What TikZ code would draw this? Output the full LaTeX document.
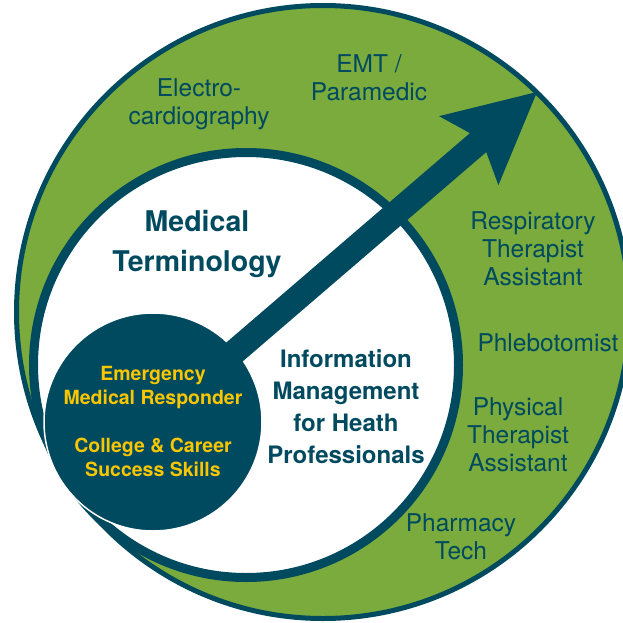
\documentclass[tikz,border=0pt]{standalone}
\usepackage{fontspec}
\setmainfont{TeX Gyre Heros}
\usetikzlibrary{arrows.meta}
\definecolor{pathteal}{RGB}{0,74,96}
\definecolor{pathgreen}{RGB}{122,171,60}
\definecolor{pathgold}{RGB}{250,198,0}
\tikzstyle{career}=[text=pathteal,align=center,font=\fontsize{24.5}{28}\selectfont]
\tikzstyle{course}=[text=pathteal,align=center,font=\bfseries\fontsize{24}{32}\selectfont]
\tikzstyle{ring}=[circle,draw=pathteal,inner sep=0pt]
\newcommand{\careernode}[3]{ % name, position in px, text
	\node[career] (#1) at (#2) {#3};
}

\begin{document}
\begin{tikzpicture}[x=1pt,y=-1pt] % one unit = one pixel of the picture
\useasboundingbox (0,0) rectangle (623,623);
% the rings
\node[ring,fill=pathgreen,line width=5pt,minimum size=613pt] (outer) at (323,312) {};
\node[ring,fill=white,line width=9pt,minimum size=425pt] (inner) at (246,365) {};
\node[circle,fill=pathteal,draw=white,line width=1.5pt,minimum size=218pt,inner sep=0pt,
	text=pathgold,align=center,font=\bfseries\fontsize{19.5}{24}\selectfont] (core) at (153,422)
	{Emergency\\Medical Responder\\[24pt]College \& Career\\Success Skills};
% the arrow
\coordinate (tip) at (537,92);
\draw[pathteal,line width=25pt,shorten <=-6pt,-{Stealth[length=90pt,width=91pt,inset=17pt,line width=0pt]}] (core) -- (tip);
% courses in the white ring
\node[course,font=\bfseries\fontsize{28.5}{40}\selectfont] (terms) at (197,244) {Medical\\Terminology};
\node[course] (info) at (346,407) {Information\\Management\\for Heath\\Professionals};
% careers in the green ring
\careernode{ekg}{199,104}{Electro-\\cardiography}
\careernode{emt}{369,78}{EMT /\\Paramedic}
\careernode{rta}{533,249}{Respiratory\\Therapist\\Assistant}
\careernode{phleb}{548,343}{Phlebotomist}
\careernode{pta}{518,435}{Physical\\Therapist\\Assistant}
\careernode{pharm}{461,537}{Pharmacy\\Tech}
\end{tikzpicture}
\end{document}
